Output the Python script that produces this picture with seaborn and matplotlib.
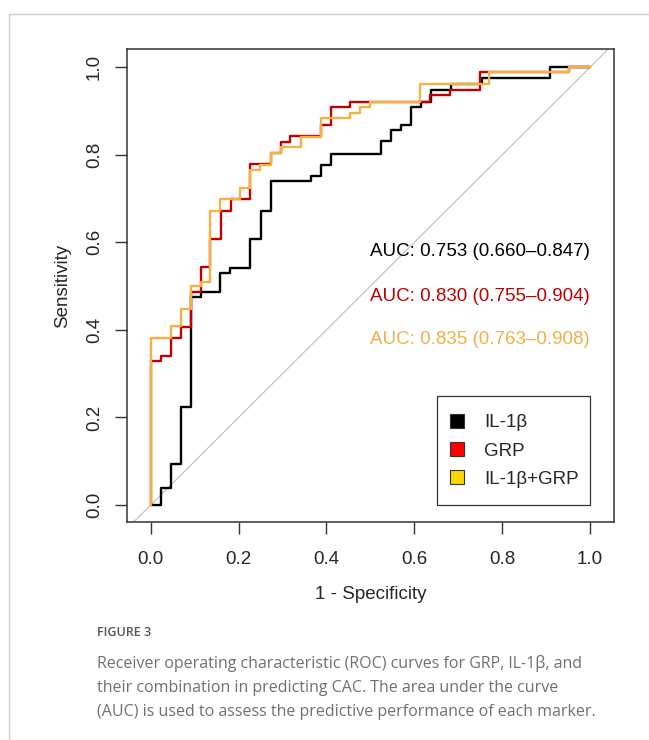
import matplotlib
matplotlib.use("Agg")
import matplotlib.pyplot as plt
from matplotlib.lines import Line2D
from matplotlib.patches import Rectangle
import seaborn as sns
import pandas as pd

# ---- data (ROC step corners: false positive rate, sensitivity) ----
il1b_fpr = [0, 0.023, 0.046, 0.069, 0.092, 0.1145, 0.158, 0.180, 0.226, 0.250, 0.273,
            0.364, 0.387, 0.410, 0.524, 0.546, 0.570, 0.593, 0.615, 0.638, 0.684,
            0.753, 0.909, 1.0]
il1b_tpr = [0, 0.038, 0.093, 0.223, 0.476, 0.487, 0.529, 0.541, 0.607, 0.672, 0.739,
            0.752, 0.777, 0.801, 0.832, 0.857, 0.868, 0.910, 0.921, 0.948, 0.962,
            0.975, 1.0, 1.0]

grp_fpr = [0, 0, 0.023, 0.0455, 0.069, 0.091, 0.1145, 0.135, 0.159, 0.182, 0.226,
           0.273, 0.296, 0.318, 0.387, 0.410, 0.454, 0.636, 0.682, 0.750, 0.953, 1.0]
grp_tpr = [0, 0.329, 0.340, 0.381, 0.407, 0.486, 0.543, 0.607, 0.672, 0.698, 0.778,
           0.803, 0.830, 0.843, 0.868, 0.910, 0.921, 0.937, 0.948, 0.988, 1.0, 1.0]

comb_fpr = [0, 0, 0.0455, 0.069, 0.091, 0.1145, 0.135, 0.158, 0.203, 0.225, 0.249,
            0.273, 0.297, 0.341, 0.387, 0.454, 0.476, 0.500, 0.613, 0.769, 0.953, 1.0]
comb_tpr = [0, 0.382, 0.408, 0.448, 0.501, 0.510, 0.672, 0.698, 0.724, 0.765, 0.777,
            0.803, 0.818, 0.841, 0.883, 0.895, 0.910, 0.921, 0.962, 0.988, 1.0, 1.0]

series_names = ["IL-1β", "GRP", "IL-1β+GRP"]
auc_texts = ["AUC: 0.753 (0.660–0.847)",
             "AUC: 0.830 (0.755–0.904)",
             "AUC: 0.835 (0.763–0.908)"]
x_ticks = [0.0, 0.2, 0.4, 0.6, 0.8, 1.0]
y_ticks = [0.0, 0.2, 0.4, 0.6, 0.8, 1.0]
tick_labels = ["0.0", "0.2", "0.4", "0.6", "0.8", "1.0"]

line_colors = ["#000000", "#C00000", "#F5B041"]
text_colors = ["#000000", "#C00000", "#F2B04A"]
legend_colors = ["#000000", "#FF0000", "#FFD700"]

sns.set_style("white")
plt.rcParams["font.family"] = ["Liberation Sans", "DejaVu Sans"]

fig = plt.figure(figsize=(6.49, 7.40), dpi=100)
ax = fig.add_axes([0.1962, 0.2942, 0.7504, 0.6392])

# diagonal reference
ax.axline((0, 0), (1, 1), color="#BDBDBD", lw=0.8, zorder=1)

frames = [
    pd.DataFrame({"fpr": il1b_fpr, "tpr": il1b_tpr}),
    pd.DataFrame({"fpr": grp_fpr, "tpr": grp_tpr}),
    pd.DataFrame({"fpr": comb_fpr, "tpr": comb_tpr}),
]
for df, col in zip(frames, line_colors):
    sns.lineplot(data=df, x="fpr", y="tpr", sort=False, estimator=None,
                 color=col, lw=1.7, drawstyle="steps-post", ax=ax, zorder=2)

ax.set_xlim(-0.0533, 1.0553)
ax.set_ylim(-0.0395, 1.041)
ax.set_xticks(x_ticks)
ax.set_xticklabels(tick_labels, fontsize=13.5)
ax.set_yticks(y_ticks)
ax.set_yticklabels(tick_labels, fontsize=13.5, rotation=90, va="center")
ax.tick_params(axis="both", direction="out", length=8.6, width=1.0,
               color="#333333", pad=9, bottom=True, left=True)
ax.tick_params(axis="x", pad=12)
for s in ax.spines.values():
    s.set_color("#333333")
    s.set_linewidth(1.1)
ax.set_xlabel("1 - Specificity", fontsize=13.5, labelpad=13)
ax.set_ylabel("Sensitivity", fontsize=13.5, labelpad=11)

for txt, col, yv in zip(auc_texts, text_colors, [0.578, 0.476, 0.377]):
    ax.text(0.499, yv, txt, color=col, fontsize=13.5, ha="left", va="center")

# legend: frame drawn as a box anchored at the bottom-right plot corner
ax.add_patch(Rectangle((0.651, 0.0), 0.349, 0.2497, transform=ax.transData,
                       facecolor="white", edgecolor="#333333", lw=0.9, zorder=3))
handles = [Line2D([], [], ls="", marker="s", markersize=9.5, markerfacecolor=c,
                  markeredgecolor="#333333", markeredgewidth=0.8)
           for c in legend_colors]
leg = ax.legend(handles, series_names, loc="center left",
                bbox_to_anchor=(0.676, 0.1234), bbox_transform=ax.transData,
                borderaxespad=0, frameon=False, fontsize=13.5,
                labelspacing=0.6, handlelength=1.0, handletextpad=0.95,
                borderpad=0)
leg.set_zorder(4)

# page decoration lines
fig.add_artist(Line2D([9 / 649, 1], [1 - 13.5 / 740] * 2, color="#CCCCCC", lw=1,
                      transform=fig.transFigure))
fig.add_artist(Line2D([9 / 649] * 2, [0, 1 - 13.5 / 740], color="#CCCCCC", lw=1,
                      transform=fig.transFigure))

# caption
fig.text(97 / 649, 1 - 633 / 740, "FIGURE 3", fontsize=9, color="#555555",
         fontweight="semibold", family=["Open Sans", "DejaVu Sans"],
         ha="left", va="center")
caption = ["Receiver operating characteristic (ROC) curves for GRP, IL-1β, and",
           "their combination in predicting CAC. The area under the curve",
           "(AUC) is used to assess the predictive performance of each marker."]
for i, line in enumerate(caption):
    fig.text(97 / 649, 1 - (663 + 24.5 * i) / 740, line, fontsize=11.5,
             color="#707070", family=["Open Sans", "DejaVu Sans"],
             ha="left", va="center")

fig.savefig("out.png", dpi=100)
